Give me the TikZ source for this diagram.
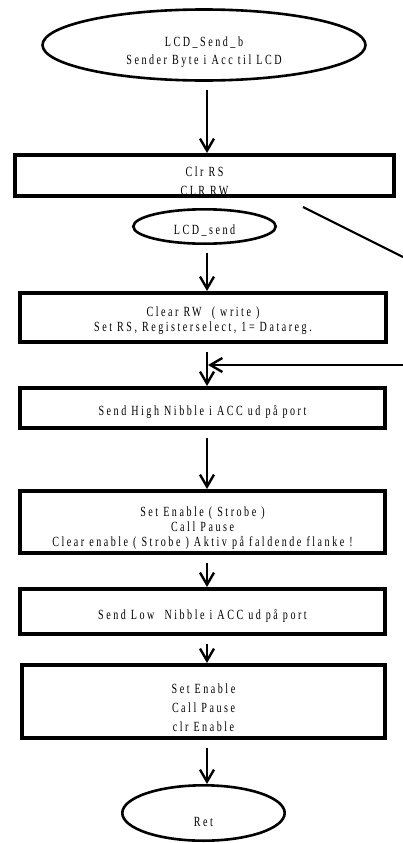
\documentclass[tikz,border=0pt]{standalone}
\usepackage{fontspec}
\setmainfont{Liberation Serif}
\newfontfamily\chartfont[FakeStretch=0.72,LetterSpace=18]{Liberation Serif}
\usetikzlibrary{shapes.geometric,arrows.meta}

\begin{document}
\begin{tikzpicture}[x=1pt,y=-1pt,
  every node/.style={font=\chartfont\fontsize{14}{15}\selectfont},
  stepbox/.style={draw, line width=3.6pt, rectangle, inner sep=0pt},
  term/.style={draw, line width=2.6pt, ellipse, inner sep=0pt},
  txt/.style={align=center},
  wide/.style={font=\chartfont\fontsize{14}{19}\selectfont},
  flow/.style={line width=1.6pt, -{Straight Barb[length=12pt,width=14pt,line width=2.4pt]}, shorten <=8pt},
  loopin/.style={line width=1.6pt, -{Straight Barb[length=12pt,width=14pt,line width=2.4pt]}},
  stub/.style={line width=2.2pt},
]
\useasboundingbox (0,0) rectangle (403,843);

% vertical spine that the flow arrows follow
\coordinate (spine) at (207,0);

\node[term, minimum width=323pt, minimum height=71pt,
  label={[txt, yshift=-7pt, font=\chartfont\fontsize{14}{18}\selectfont]center:{LCD\_Send\_b\\Sender Byte i Acc til LCD}}] (start) at (204,45) {};

\node[stepbox, minimum width=379.4pt, minimum height=41.4pt,
  label={[txt, wide, yshift=-6pt]center:{Clr RS\\CLR RW}}] (clr) at (204.5,175.5) {};

\node[term, minimum width=142.4pt, minimum height=34.4pt,
  label={[txt, yshift=-4.5pt]center:{LCD\_send}}] (entry) at (204.5,226.5) {};

\node[stepbox, minimum width=366.4pt, minimum height=49.4pt,
  label={[txt, yshift=-3pt]center:{Clear RW\ \ ( write )\\Set RS, Registerselect, 1= Datareg.}}] (setrs) at (203,317.5) {};

\node[stepbox, minimum width=365.4pt, minimum height=40.4pt,
  label={[txt, yshift=-4pt]center:{Send High Nibble i ACC ud på port}}] (high) at (202.5,408) {};

\node[stepbox, minimum width=365.4pt, minimum height=62.4pt,
  label={[txt, yshift=-6pt]center:{Set Enable ( Strobe )\\Call Pause\\Clear enable ( Strobe ) Aktiv på faldende flanke !}}] (strobe1) at (202.5,522) {};

\node[stepbox, minimum width=365.4pt, minimum height=45.4pt,
  label={[txt, yshift=-4.5pt]center:{Send Low\ \ Nibble i ACC ud på port}}] (low) at (202.5,611.5) {};

\node[stepbox, minimum width=363.4pt, minimum height=73.4pt,
  label={[txt, wide, yshift=-6.5pt]center:{Set Enable\\Call Pause\\clr Enable}}] (strobe2) at (203.5,701.5) {};

\node[term, minimum width=162.4pt, minimum height=55.4pt,
  label={[txt, yshift=-9pt]center:{Ret}}] (ret) at (203.5,813) {};

% flow arrows
\draw[flow] (start.south -| spine) -- (clr.north -| spine);
\draw[flow] (entry.south -| spine) -- (setrs.north -| spine);
\draw[flow] (setrs.south -| spine) -- (high.north -| spine);
\draw[flow] (high.south -| spine) -- (strobe1.north -| spine);
\draw[flow] (strobe1.south -| spine) -- (low.north -| spine);
\draw[flow] (low.south -| spine) -- (strobe2.north -| spine);
\draw[flow] (strobe2.south -| spine) -- (ret.north -| spine);

% loop-back line entering from the right
\coordinate (loopstart) at (403,365);
\coordinate (looptip) at (208,365);
\draw[loopin] (loopstart) -- (looptip);

% outgoing line leaving towards the right
\coordinate (outA) at (303,207);
\coordinate (outB) at (403,257);
\draw[stub] (outA) -- (outB);
\end{tikzpicture}
\end{document}
